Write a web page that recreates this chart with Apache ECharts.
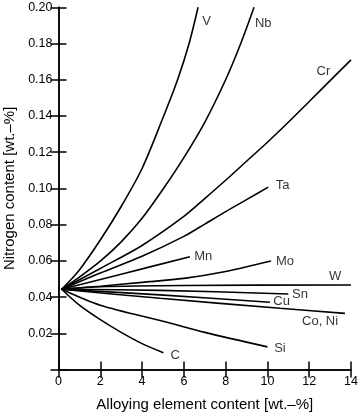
<!DOCTYPE html>
<html>
<head>
<meta charset="utf-8">
<script src="https://cdn.jsdelivr.net/npm/echarts@6/dist/echarts.min.js"></script>
<style>
html,body{margin:0;padding:0;background:#fff;}
#chart{width:360px;height:413px;}
</style>
</head>
<body>
<div id="chart"></div>
<script>
// Tick values
const xTicks = [0, 2, 4, 6, 8, 10, 12, 14];
const yTicks = [0, 0.02, 0.04, 0.06, 0.08, 0.10, 0.12, 0.14, 0.16, 0.18, 0.20];

// Series data (alloying content wt.-%, nitrogen content wt.-%)
const V_x  = [0.15, 1.0, 2.0, 3.0, 4.0, 5.0, 5.7, 6.25, 6.68];
const V_y  = [0.0443, 0.055, 0.0715, 0.090, 0.111, 0.139, 0.160, 0.180, 0.20];
const Nb_x = [0.15, 1.0, 2.0, 3.0, 4.0, 5.0, 6.0, 7.0, 8.0, 8.69, 9.36];
const Nb_y = [0.0443, 0.051, 0.0598, 0.0705, 0.0835, 0.0995, 0.117, 0.1365, 0.160, 0.179, 0.20];
const Cr_x = [0.15, 2.0, 4.0, 6.0, 7.0, 8.0, 9.0, 10.0, 11.0, 12.0, 13.0, 14.0];
const Cr_y = [0.0443, 0.0558, 0.0685, 0.0845, 0.0944, 0.1045, 0.115, 0.1255, 0.1365, 0.148, 0.1595, 0.171];
const Ta_x = [0.15, 2.0, 4.0, 6.0, 7.0, 8.0, 9.0, 10.04];
const Ta_y = [0.0443, 0.0533, 0.0625, 0.0735, 0.0803, 0.0872, 0.0938, 0.1007];
const Mn_x = [0.15, 3.0, 6.29];
const Mn_y = [0.0443, 0.0526, 0.0623];
const Mo_x = [0.15, 2.0, 4.0, 6.0, 8.0, 10.17];
const Mo_y = [0.0443, 0.046, 0.0481, 0.0503, 0.0541, 0.0599];
const W_x  = [0.15, 2.0, 6.0, 14.0];
const W_y  = [0.0443, 0.0457, 0.0464, 0.0467];
const Sn_x = [0.15, 4.86, 11.0];
const Sn_y = [0.0443, 0.0437, 0.0417];
const Cu_x = [0.15, 4.86, 10.12];
const Cu_y = [0.0443, 0.0412, 0.0371];
const CoNi_x = [0.15, 4.86, 10.6, 13.71];
const CoNi_y = [0.0443, 0.0393, 0.0338, 0.031];
const Si_x = [0.15, 2.0, 5.1, 7.01, 10.0];
const Si_y = [0.0443, 0.0355, 0.0264, 0.0205, 0.0125];
const C_x  = [0.15, 1.0, 2.0, 3.0, 4.0, 5.02];
const C_y  = [0.0443, 0.0355, 0.0275, 0.0205, 0.0143, 0.0093];

// Curve labels (text and anchor in data coordinates)
const labelNames = ['V', 'Nb', 'Cr', 'Ta', 'Mn', 'Mo', 'W', 'Sn', 'Cu', 'Co, Ni', 'Si', 'C'];
const labelX = [7.09, 9.8, 12.68, 10.73, 6.93, 10.84, 13.24, 11.56, 10.68, 12.52, 10.6, 5.58];
const labelY = [0.192, 0.1913, 0.1645, 0.1014, 0.0623, 0.0596, 0.0513, 0.0412, 0.0375, 0.0264, 0.0117, 0.008];

const curves = [
  [V_x, V_y], [Nb_x, Nb_y], [Cr_x, Cr_y], [Ta_x, Ta_y], [Mn_x, Mn_y], [Mo_x, Mo_y],
  [W_x, W_y], [Sn_x, Sn_y], [Cu_x, Cu_y], [CoNi_x, CoNi_y], [Si_x, Si_y], [C_x, C_y]
];

const FONT = '"Liberation Sans", Arial, Helvetica, sans-serif';
const chart = echarts.init(document.getElementById('chart'), null, {renderer: 'canvas'});

const lineSeries = curves.map(function (c, i) {
  return {
    type: 'line',
    name: labelNames[i],
    xAxisIndex: 0, yAxisIndex: 0,
    data: c[0].map(function (x, j) { return [x, c[1][j]]; }),
    smooth: 0.3,
    showSymbol: false,
    symbol: 'none',
    silent: true,
    lineStyle: {color: '#000', width: 1.6},
    z: 3
  };
});

const labelSeries = {
  type: 'scatter',
  xAxisIndex: 0, yAxisIndex: 0,
  symbolSize: 0,
  silent: true,
  data: labelNames.map(function (n, i) { return {name: n, value: [labelX[i], labelY[i]]}; }),
  label: {
    show: true,
    position: 'inside',
    formatter: function (p) { return p.name; },
    color: '#000',
    fontSize: 13,
    fontFamily: FONT
  },
  z: 4
};

const axisCommon = {
  type: 'value',
  axisLine: {show: true, lineStyle: {color: '#000', width: 1.5}},
  axisTick: {show: true, inside: true, length: 8, lineStyle: {color: '#000', width: 1.5}},
  splitLine: {show: false}
};

chart.setOption({
  animation: false,
  backgroundColor: '#fff',
  grid: {left: 58.5, right: 9, top: 7.3, bottom: 43.5, containLabel: false, outerBoundsMode: 'none'},
  xAxis: [
    Object.assign({}, axisCommon, {
      position: 'bottom', min: xTicks[0], max: xTicks[xTicks.length - 1], interval: 2,
      name: 'Alloying element content [wt.\u2013%]',
      nameLocation: 'middle', nameGap: 28,
      nameTextStyle: {color: '#000', fontSize: 15, fontFamily: FONT},
      axisLabel: {show: true, color: '#000', fontSize: 12.5, fontFamily: FONT, margin: 6}
    }),
    Object.assign({}, axisCommon, {
      position: 'top', min: xTicks[0], max: xTicks[xTicks.length - 1], interval: 2,
      axisLabel: {show: false}
    })
  ],
  yAxis: [
    Object.assign({}, axisCommon, {
      position: 'left', min: yTicks[0], max: yTicks[yTicks.length - 1], interval: 0.02,
      name: 'Nitrogen content [wt.\u2013%]',
      nameLocation: 'middle', nameGap: 36,
      nameTextStyle: {color: '#000', fontSize: 15, fontFamily: FONT},
      axisLabel: {show: true, color: '#000', fontSize: 12.5, fontFamily: FONT, margin: 6,
        formatter: function (v) { return v === 0 ? '' : v.toFixed(2); }}
    }),
    Object.assign({}, axisCommon, {
      position: 'right', min: yTicks[0], max: yTicks[yTicks.length - 1], interval: 0.02,
      axisLabel: {show: false}
    })
  ],
  series: lineSeries.concat([labelSeries])
});
</script>
</body>
</html>
